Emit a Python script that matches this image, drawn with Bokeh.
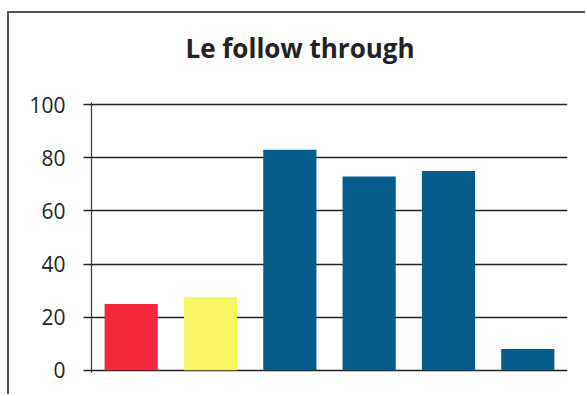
from bokeh.plotting import figure
from bokeh.embed import file_html
from bokeh.resources import INLINE
from bokeh.models import ColumnDataSource, Range1d, FixedTicker, Title

title = "Le follow through"
positions = [1, 2, 3, 4, 5, 6]
values = [25, 27.5, 83, 73, 75, 8]
colors = ["#F4283C", "#F9F462", "#035C8A", "#035C8A", "#035C8A", "#035C8A"]
y_ticks = [0, 20, 40, 60, 80, 100]

src = ColumnDataSource(dict(x=positions, top=values, color=colors))

p = figure(width=578, height=383, output_backend="svg", toolbar_location=None,
           x_range=Range1d(0.5, 6.5), y_range=Range1d(-0.8, 100.8),
           min_border_left=82, min_border_right=20, min_border_top=89, min_border_bottom=24,
           title=None)
p.styles = {"margin-left": "7px", "margin-top": "11px",
            "border-left": "2px solid #555", "border-top": "2px solid #555"}
p.outline_line_color = None
p.background_fill_color = "white"
p.border_fill_color = "white"

# spacer between frame and title
p.add_layout(Title(text=" ", text_font_size="1px", standoff=24), "above")
p.add_layout(Title(text=title, align="left", offset=94, standoff=20,
                   text_font="Open Sans", text_font_style="bold",
                   text_font_size="26px", text_color="#222222"), "above")

p.vbar(x="x", top="top", width=0.67, color="color", source=src, line_color=None)

p.xaxis.visible = False
p.xgrid.visible = False
p.ygrid.ticker = FixedTicker(ticks=y_ticks)
p.ygrid.grid_line_color = "#222222"
p.ygrid.grid_line_width = 1.5
p.ygrid.level = "underlay"

ax = p.yaxis[0]
ax.ticker = FixedTicker(ticks=y_ticks)
ax.axis_line_color = "#333333"
ax.axis_line_width = 1.2
ax.major_tick_line_color = "#222222"
ax.major_tick_line_width = 1.5
ax.major_tick_out = 8
ax.major_tick_in = 0
ax.minor_tick_line_color = None
ax.major_label_standoff = 18
ax.major_label_text_font = "Open Sans"
ax.major_label_text_font_size = "21px"
ax.major_label_text_color = "#222222"

open("out.html", "w").write(file_html(p, INLINE))
